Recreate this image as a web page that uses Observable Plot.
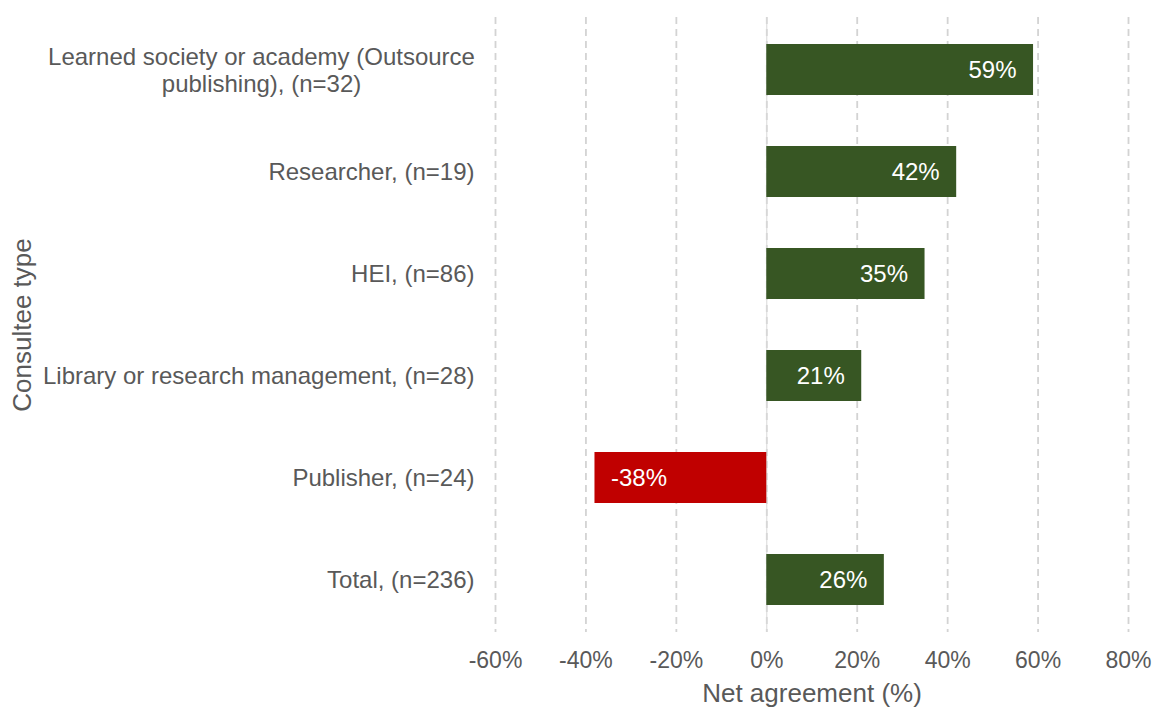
<!DOCTYPE html>
<html>
<head>
<meta charset="utf-8">
<script src="https://cdn.jsdelivr.net/npm/d3@7"></script>
<script src="https://cdn.jsdelivr.net/npm/@observablehq/plot@0.6"></script>
<style>
  html, body { margin: 0; padding: 0; background: #fff; }
  #chart svg { display: block; }
</style>
</head>
<body>
<div id="chart"></div>
<script>
const categories = [
  "Learned society or academy (Outsource publishing), (n=32)",
  "Researcher, (n=19)",
  "HEI, (n=86)",
  "Library or research management, (n=28)",
  "Publisher, (n=24)",
  "Total, (n=236)"
];
const values = [59, 42, 35, 21, -38, 26];
const xTicks = [-60, -40, -20, 0, 20, 40, 60, 80];
const wrappedLabel = "Learned society or academy (Outsource\npublishing), (n=32)";
const colors = {positive: "#375623", negative: "#C00000"};
const textColor = "#595959";
const gridColor = "#d3d3d3";

const data = categories.map((c, i) => ({cat: c, value: values[i]}));

const chart = Plot.plot({
  width: 1154,
  height: 709,
  marginLeft: 495,
  marginRight: 26,
  marginTop: 17,
  marginBottom: 77,
  style: {fontFamily: "'Liberation Sans', Arial, sans-serif", color: textColor, background: "#fff"},
  x: {domain: [-60, 80], ticks: xTicks},
  y: {domain: categories, paddingInner: 0.5, paddingOuter: 0.25},
  marks: [
    Plot.gridX(xTicks, {stroke: gridColor, strokeOpacity: 1, strokeWidth: 1.8, strokeDasharray: "7,5"}),
    Plot.ruleX([0], {stroke: "#d9d9d9", strokeOpacity: 1, strokeWidth: 1}),
    Plot.barX(data, {x: "value", y: "cat", fill: d => d.value < 0 ? colors.negative : colors.positive}),
    Plot.text(data.filter(d => d.value >= 0), {x: "value", y: "cat", text: d => d.value + "%", textAnchor: "end", dx: -17, fill: "#fff", fontSize: 24}),
    Plot.text(data.filter(d => d.value < 0), {x: "value", y: "cat", text: d => d.value + "%", textAnchor: "start", dx: 16, fill: "#fff", fontSize: 24}),
    Plot.axisX({ticks: xTicks, tickSize: 0, tickPadding: 19, tickFormat: d => d + "%", fontSize: 23, label: null, fill: textColor}),
    Plot.axisY({tickSize: 0, tickPadding: 21, fontSize: 24, label: null, fill: textColor,
      tickFormat: d => d === categories[0] ? "" : d}),
    Plot.text([categories[0]], {y: d => d, frameAnchor: "left", text: () => wrappedLabel, textAnchor: "middle", dx: -234, lineHeight: 1.14, fontSize: 24, fill: textColor}),
    Plot.text(["Consultee type"], {frameAnchor: "left", text: d => d, textAnchor: "middle", rotate: -90, dx: -473, fontSize: 26, fill: textColor}),
    Plot.text(["Net agreement (%)"], {frameAnchor: "bottom", text: d => d, textAnchor: "middle", dy: 69, fontSize: 26, fill: textColor})
  ]
});
document.getElementById("chart").appendChild(chart);
</script>
</body>
</html>
